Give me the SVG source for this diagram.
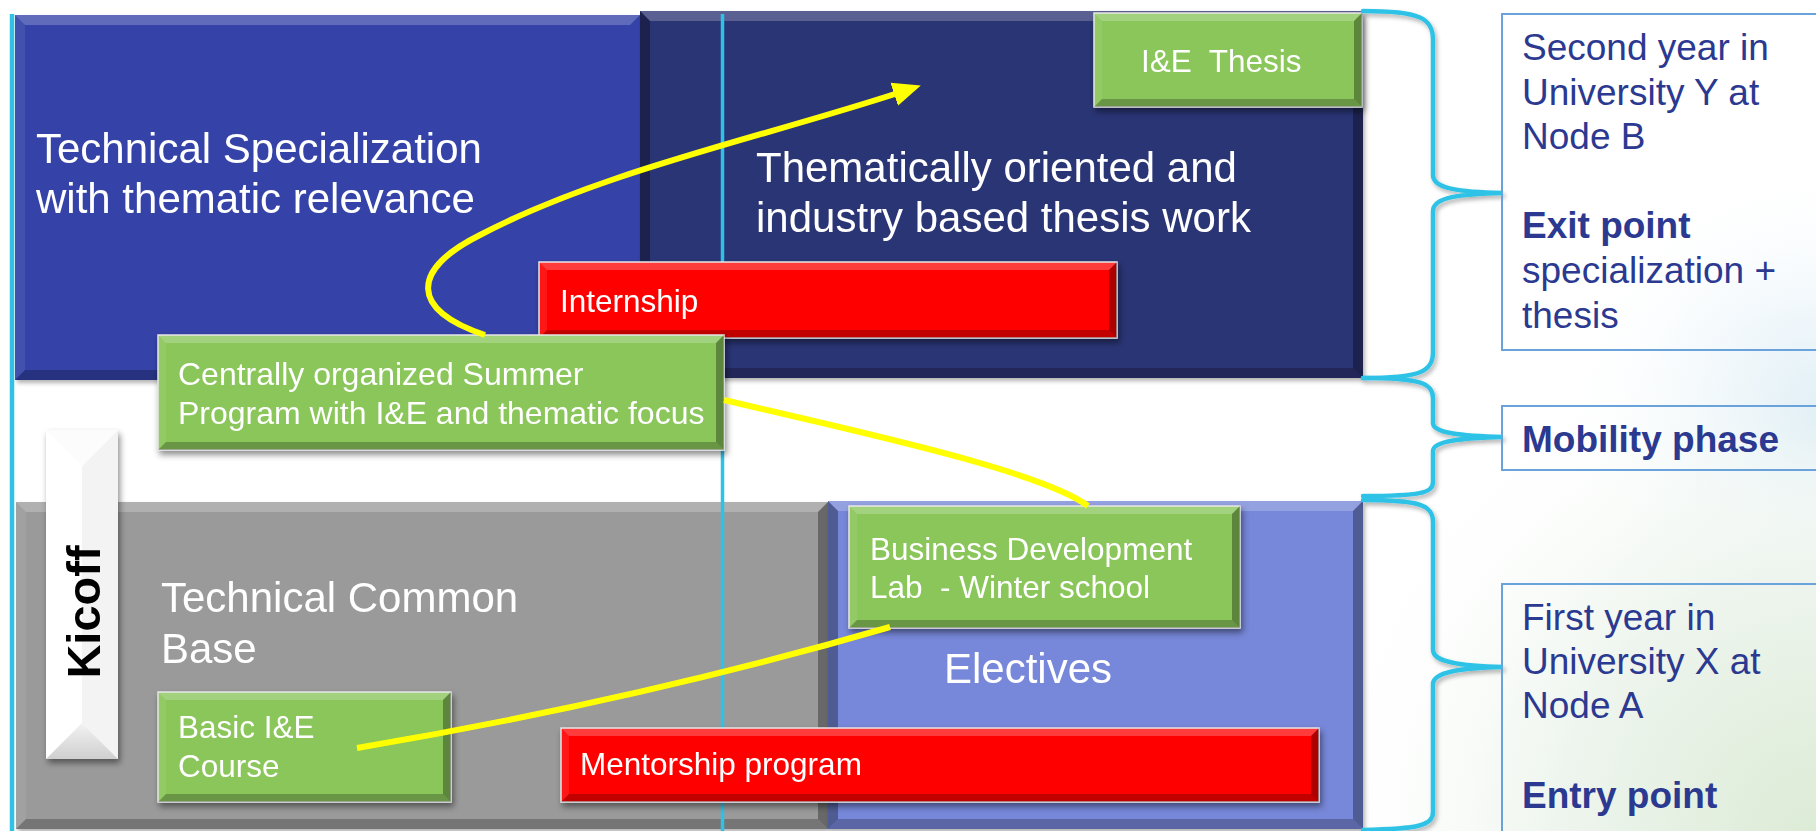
<svg xmlns="http://www.w3.org/2000/svg" width="1816" height="831" viewBox="0 0 1816 831">
<defs>
<style>
.t{font-family:"Liberation Sans",Arial,sans-serif;fill:#fff}
.big{font-size:42px}
.box{font-size:31.5px}
.side{font-family:"Liberation Sans",Arial,sans-serif;font-size:37px;fill:#2B3990}
.b{font-weight:bold}
.hl{fill:#fff;opacity:.22}
.lf{fill:#fff;opacity:.08}
.dk{fill:#000;opacity:.32}
.bm{fill:#000;opacity:.24}
.blue{fill:#3443A8}
.navy{fill:#2C3574}
.gray{fill:#9A9A9A}
.elec{fill:#7787D9}
.green{fill:#8AC65A;stroke:#e4e4e4;stroke-width:1.5}
.red{fill:#FF0404;stroke:#e4e4e4;stroke-width:1.5}
.cy{stroke:#2FC2E6;fill:none}
.brace{stroke:#2FC3E6;stroke-width:4.5;fill:none;stroke-linecap:round}
.sbox{fill:none;stroke:#6AA2DC;stroke-width:2}
.yl{stroke:#FFFF00;stroke-width:6;fill:none;stroke-linecap:butt}
</style>
<filter id="sh" x="-10%" y="-10%" width="130%" height="140%">
<feDropShadow dx="2" dy="4" stdDeviation="3" flood-color="#000" flood-opacity="0.45"/>
</filter>
<filter id="sh2" x="-5%" y="-5%" width="110%" height="115%">
<feDropShadow dx="2" dy="3" stdDeviation="2" flood-color="#000" flood-opacity="0.3"/>
</filter>
<marker id="arr" markerUnits="userSpaceOnUse" markerWidth="30" markerHeight="30" viewBox="0 0 30 30" refX="4" refY="15" orient="auto">
<path d="M0,3 L28,15 L0,27 Z" fill="#FFFF00"/>
</marker>
<radialGradient id="bg1" cx="1816" cy="831" r="520" gradientUnits="userSpaceOnUse">
<stop offset="0" stop-color="#dcebd6"/>
<stop offset="0.5" stop-color="#eef5ee"/>
<stop offset="1" stop-color="#ffffff" stop-opacity="0"/>
</radialGradient>
<radialGradient id="bg2" cx="1816" cy="420" r="260" gradientUnits="userSpaceOnUse">
<stop offset="0" stop-color="#d3e8f4"/>
<stop offset="1" stop-color="#ffffff" stop-opacity="0"/>
</radialGradient>
<linearGradient id="kb" x1="0" y1="0" x2="0" y2="1">
<stop offset="0" stop-color="#f2f2f2"/>
<stop offset="1" stop-color="#cfcfcf"/>
</linearGradient>
</defs>
<rect width="1816" height="831" fill="#fff"/>
<rect width="1816" height="831" fill="url(#bg2)"/>
<rect width="1816" height="831" fill="url(#bg1)"/>

<g id="spec" filter="url(#sh2)">
<rect class="blue" x="15" y="15" width="625" height="365"/>
<polygon class="hl" points="15,15 640,15 630,25 25,25"/>
<polygon class="lf" points="15,15 25,25 25,370 15,380"/>
<polygon class="bm" points="15,380 640,380 630,370 25,370"/>
<text class="t big" x="36" y="163">Technical Specialization</text>
<text class="t big" x="36" y="213">with thematic relevance</text>
</g>

<g id="thesiswork" filter="url(#sh2)">
<rect class="navy" x="640" y="11" width="723" height="367"/>
<polygon class="hl" points="640,11 1363,11 1353,21 650,21"/>
<polygon class="dk" points="640,11 650,21 650,368 640,378"/>
<polygon class="dk" points="1363,11 1353,21 1353,368 1363,378"/>
<polygon class="bm" points="640,378 1363,378 1353,368 650,368"/>
<text class="t big" x="756" y="182">Thematically oriented and</text>
<text class="t big" x="756" y="232">industry based thesis work</text>
</g>

<g id="common" filter="url(#sh2)">
<rect class="gray" x="16" y="502" width="812" height="327"/>
<polygon class="hl" points="16,502 828,502 818,512 26,512"/>
<polygon class="lf" points="16,502 26,512 26,819 16,829"/>
<polygon class="dk" points="828,502 818,512 818,819 828,829"/>
<polygon class="bm" points="16,829 828,829 818,819 26,819"/>
<text class="t big" x="161" y="612">Technical Common</text>
<text class="t big" x="161" y="663">Base</text>
</g>

<g id="electives" filter="url(#sh2)">
<rect class="elec" x="828" y="501" width="535" height="328"/>
<polygon class="hl" points="828,501 1363,501 1353,511 838,511"/>
<polygon class="dk" points="828,501 838,511 838,819 828,829"/>
<polygon class="dk" points="1363,501 1353,511 1353,819 1363,829"/>
<polygon class="bm" points="828,829 1363,829 1353,819 838,819"/>
<text class="t big" x="944" y="683">Electives</text>
</g>

<g id="timelines">
<line class="cy" x1="12" y1="14" x2="12" y2="831" stroke-width="4.5"/>
<line class="cy" x1="722.5" y1="14" x2="722.5" y2="831" stroke-width="3.5"/>
</g>

<g id="iethesis" filter="url(#sh)">
<rect class="green" x="1094" y="13" width="268" height="94"/>
<polygon class="hl" points="1094,13 1362,13 1354,21 1102,21"/>
<polygon class="lf" points="1094,13 1102,21 1102,99 1094,107"/>
<polygon class="dk" points="1362,13 1354,21 1354,99 1362,107"/>
<polygon class="bm" points="1094,107 1362,107 1354,99 1102,99"/>
<text class="t box" x="1141" y="72" xml:space="preserve" style="white-space:pre">I&amp;E  Thesis</text>
</g>

<g id="internship" filter="url(#sh)">
<rect class="red" x="539" y="262" width="578" height="76"/>
<polygon class="hl" points="539,262 1117,262 1109,270 547,270"/>
<polygon class="lf" points="539,262 547,270 547,330 539,338"/>
<polygon class="dk" points="1117,262 1109,270 1109,330 1117,338"/>
<polygon class="bm" points="539,338 1117,338 1109,330 547,330"/>
<text class="t box" x="560" y="312">Internship</text>
</g>

<g id="summer" filter="url(#sh)">
<rect class="green" x="158" y="335" width="566" height="115"/>
<polygon class="hl" points="158,335 724,335 716,343 166,343"/>
<polygon class="lf" points="158,335 166,343 166,442 158,450"/>
<polygon class="dk" points="724,335 716,343 716,442 724,450"/>
<polygon class="bm" points="158,450 724,450 716,442 166,442"/>
<text class="t" font-size="32" x="178" y="385">Centrally organized Summer</text>
<text class="t" font-size="32" x="178" y="424">Program with I&amp;E and thematic focus</text>
</g>

<g id="kicoff" filter="url(#sh)">
<rect x="46" y="430" width="72" height="329" fill="#fff"/>
<polygon points="118,430 82,466 82,723 118,759" fill="#f3f3f3"/>
<polygon points="46,759 118,759 82,723" fill="url(#kb)"/>
<polygon points="46,430 118,430 82,466" fill="#fcfcfc"/>
<text transform="translate(100,612) rotate(-90)" text-anchor="middle" font-family="Liberation Sans,Arial,sans-serif" font-weight="bold" font-size="47" fill="#000">Kicoff</text>
</g>

<g id="bizdev" filter="url(#sh)">
<rect class="green" x="849" y="506" width="391" height="122"/>
<polygon class="hl" points="849,506 1240,506 1232,514 857,514"/>
<polygon class="lf" points="849,506 857,514 857,620 849,628"/>
<polygon class="dk" points="1240,506 1232,514 1232,620 1240,628"/>
<polygon class="bm" points="849,628 1240,628 1232,620 857,620"/>
<text class="t box" x="870" y="560">Business Development</text>
<text class="t box" x="870" y="598" xml:space="preserve" style="white-space:pre">Lab  - Winter school</text>
</g>

<g id="basic" filter="url(#sh)">
<rect class="green" x="158" y="692" width="293" height="110"/>
<polygon class="hl" points="158,692 451,692 443,700 166,700"/>
<polygon class="lf" points="158,692 166,700 166,794 158,802"/>
<polygon class="dk" points="451,692 443,700 443,794 451,802"/>
<polygon class="bm" points="158,802 451,802 443,794 166,794"/>
<text class="t box" x="178" y="738">Basic I&amp;E</text>
<text class="t box" x="178" y="777">Course</text>
</g>

<g id="mentorship" filter="url(#sh)">
<rect class="red" x="561" y="728" width="758" height="74"/>
<polygon class="hl" points="561,728 1319,728 1311,736 569,736"/>
<polygon class="lf" points="561,728 569,736 569,794 561,802"/>
<polygon class="dk" points="1319,728 1311,736 1311,794 1319,802"/>
<polygon class="bm" points="561,802 1319,802 1311,794 569,794"/>
<text class="t box" x="580" y="775">Mentorship program</text>
</g>

<g id="connectors">
<path class="yl" d="M485,335 C410,310 410,270 480,235 C600,172 760,138 898,93" marker-end="url(#arr)"/>
<path class="yl" d="M724,400 C850,430 1040,470 1088,506"/>
<path class="yl" d="M357,748 Q640,700 890,627"/>
</g>

<g id="braces" filter="url(#sh2)">
<path class="brace" d="M1363,11 C1420,11 1433,18 1433,40 L1433,175 C1433,189 1460,192 1503,193 C1460,194 1433,197 1433,211 L1433,352 C1433,372 1420,378 1363,378"/>
<path class="brace" d="M1363,378 C1420,378 1433,383 1433,398 L1433,423 C1433,433 1460,436 1503,437 C1460,438 1433,441 1433,451 L1433,482 C1433,493 1420,496 1363,496"/>
<path class="brace" d="M1363,500 C1420,500 1433,505 1433,522 L1433,650 C1433,662 1460,666 1503,667 C1460,668 1433,672 1433,684 L1433,812 C1433,825 1420,829 1363,830"/>
</g>

<g id="year2">
<rect class="sbox" x="1502" y="14" width="330" height="336"/>
<text class="side" x="1522" y="60">Second year in</text>
<text class="side" x="1522" y="105">University Y at</text>
<text class="side" x="1522" y="149">Node B</text>
<text class="side b" x="1522" y="238">Exit point</text>
<text class="side" x="1522" y="283">specialization +</text>
<text class="side" x="1522" y="328">thesis</text>
</g>

<g id="mobility">
<rect class="sbox" x="1502" y="406" width="330" height="64"/>
<text class="side b" x="1522" y="452">Mobility phase</text>
</g>

<g id="year1">
<rect class="sbox" x="1502" y="584" width="330" height="260"/>
<text class="side" x="1522" y="630">First year in</text>
<text class="side" x="1522" y="674">University X at</text>
<text class="side" x="1522" y="718">Node A</text>
<text class="side b" x="1522" y="808">Entry point</text>
</g>
</svg>
